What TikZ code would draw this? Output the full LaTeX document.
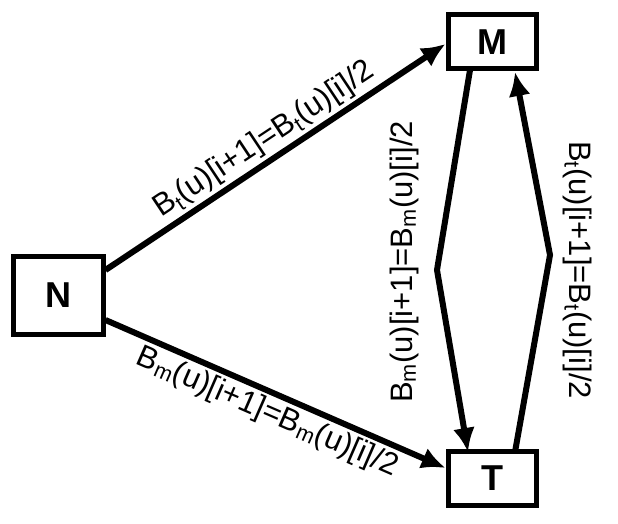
\documentclass[tikz,border=0pt]{standalone}
\usepackage{fontspec}
\setmainfont{Liberation Sans}
\usetikzlibrary{arrows.meta}
\begin{document}
\begin{tikzpicture}[x=1pt,y=-1pt,line width=6pt,
  state/.style={draw,line width=5pt,minimum width=88pt,minimum height=54pt,inner sep=0pt,font=\fontsize{36}{40}\selectfont\bfseries},
  edge/.style={-{Latex[length=24pt,width=22pt]}},
  lab/.style={font=\fontsize{31}{34}\selectfont,inner sep=3pt}]
\useasboundingbox (0,0) rectangle (618,524);
\node[state,minimum width=90pt,minimum height=78pt] (N) at (58,295) {N};
\node[state] (M) at (492,42) {M};
\node[state] (T) at (492,478) {T};
\coordinate (L) at (437,270);
\coordinate (R) at (550,255);
\draw[edge] (N.east |- 0,270) -- node[lab,sloped,above]{B$_\mathrm{t}$(u)[i+1]=B$_\mathrm{t}$(u)[i]/2} (M.west |- 0,44);
\draw[edge] (N.east |- 0,320) -- node[lab,sloped,below]{B$_\mathrm{m}$(u)[i+1]=B$_\mathrm{m}$(u)[i]/2} (T.west |- 0,468);
\draw[edge,line join=miter] (470,70) -- (L) -- (468,452);
\draw[edge,line join=miter] (515,452) -- (R) -- (515,72);
\node[lab,rotate=90] (lm) at (404,262) {B$_\mathrm{m}$(u)[i+1]=B$_\mathrm{m}$(u)[i]/2};
\node[lab,rotate=-90] (lt) at (578,270) {B$_\mathrm{t}$(u)[i+1]=B$_\mathrm{t}$(u)[i]/2};
\end{tikzpicture}
\end{document}
